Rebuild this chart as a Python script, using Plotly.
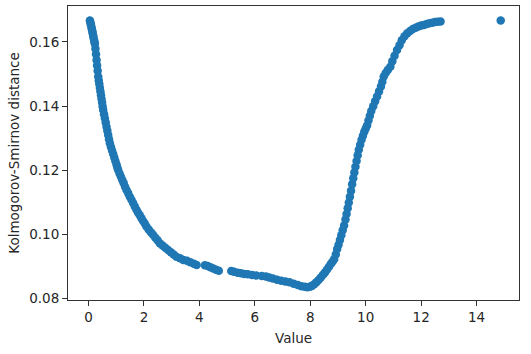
import plotly.graph_objects as go

value = [0.05, 0.06, 0.08, 0.09, 0.11, 0.12, 0.14, 0.15, 0.17, 0.18, 0.20, 0.22, 0.23,
         0.25, 0.27, 0.29, 0.31, 0.33, 0.35, 0.37, 0.39, 0.41, 0.43, 0.45, 0.47, 0.49,
         0.51, 0.53, 0.56, 0.59, 0.62, 0.65, 0.68, 0.71, 0.74, 0.77, 0.81, 0.85, 0.89,
         0.93, 0.97, 1.01, 1.04, 1.07, 1.12, 1.17, 1.22, 1.27, 1.32, 1.37, 1.43, 1.49,
         1.55, 1.61, 1.67, 1.73, 1.79, 1.85, 1.91, 1.97, 2.03, 2.09, 2.17, 2.25, 2.33,
         2.41, 2.49, 2.57, 2.67, 2.77, 2.87, 2.97, 3.07, 3.17, 3.30, 3.42, 3.55, 3.67,
         3.80, 3.90, 4.20, 4.30, 4.40, 4.50, 4.60, 4.70, 5.15, 5.25, 5.38, 5.50, 5.62,
         5.75, 5.90, 6.05, 6.25, 6.40, 6.52, 6.65, 6.80, 6.95, 7.10, 7.25, 7.40, 7.55,
         7.68, 7.80, 7.90, 7.98, 8.06, 8.14, 8.22, 8.30, 8.38, 8.46, 8.53, 8.60, 8.67,
         8.74, 8.80, 8.86, 8.92, 8.97, 9.02, 9.07, 9.12, 9.17, 9.22, 9.27, 9.31, 9.35,
         9.39, 9.43, 9.47, 9.51, 9.55, 9.59, 9.63, 9.67, 9.71, 9.75, 9.80, 9.85, 9.90,
         9.95, 10.00, 10.05, 10.10, 10.15, 10.20, 10.27, 10.34, 10.41, 10.48, 10.55,
         10.60, 10.65, 10.72, 10.80, 10.89, 10.96, 11.04, 11.13, 11.22, 11.30, 11.40,
         11.50, 11.60, 11.70, 11.80, 11.90, 12.00, 12.10, 12.20, 12.30, 12.40, 12.50,
         12.60, 12.70, 14.87]

ks_distance = [0.1667, 0.1663, 0.1657, 0.1652, 0.1645, 0.1640, 0.1633, 0.1627, 0.1619,
               0.1614, 0.1606, 0.1599, 0.1594, 0.1579, 0.1562, 0.1544, 0.1527, 0.1510,
               0.1492, 0.1480, 0.1469, 0.1457, 0.1446, 0.1434, 0.1422, 0.1411, 0.1399,
               0.1388, 0.1375, 0.1362, 0.1349, 0.1336, 0.1323, 0.1310, 0.1297, 0.1284,
               0.1273, 0.1262, 0.1251, 0.1240, 0.1229, 0.1218, 0.1209, 0.1201, 0.1190,
               0.1180, 0.1170, 0.1160, 0.1149, 0.1139, 0.1129, 0.1118, 0.1108, 0.1098,
               0.1087, 0.1077, 0.1068, 0.1060, 0.1051, 0.1042, 0.1034, 0.1025, 0.1016,
               0.1007, 0.0999, 0.0990, 0.0982, 0.0973, 0.0966, 0.0959, 0.0952, 0.0945,
               0.0938, 0.0931, 0.0926, 0.0921, 0.0918, 0.0914, 0.0909, 0.0905, 0.0904,
               0.0902, 0.0898, 0.0894, 0.0890, 0.0887, 0.0886, 0.0884, 0.0881, 0.0879,
               0.0877, 0.0876, 0.0874, 0.0872, 0.0871, 0.0869, 0.0866, 0.0863, 0.0859,
               0.0856, 0.0854, 0.0851, 0.0847, 0.0843, 0.0839, 0.0837, 0.0836, 0.0837,
               0.0840, 0.0845, 0.0851, 0.0858, 0.0866, 0.0875, 0.0882, 0.0890, 0.0899,
               0.0908, 0.0915, 0.0923, 0.0938, 0.0955, 0.0968, 0.0983, 0.0998, 0.1013,
               0.1028, 0.1047, 0.1064, 0.1082, 0.1100, 0.1118, 0.1136, 0.1157, 0.1175,
               0.1193, 0.1211, 0.1229, 0.1247, 0.1264, 0.1280, 0.1295, 0.1308, 0.1320,
               0.1330, 0.1340, 0.1355, 0.1370, 0.1385, 0.1400, 0.1415, 0.1430, 0.1446,
               0.1461, 0.1476, 0.1492, 0.1503, 0.1513, 0.1523, 0.1540, 0.1557, 0.1575,
               0.1590, 0.1605, 0.1618, 0.1627, 0.1634, 0.1640, 0.1644, 0.1648, 0.1651,
               0.1653, 0.1656, 0.1658, 0.1660, 0.1662, 0.1663, 0.1664, 0.1667]

x_ticks = [0, 2, 4, 6, 8, 10, 12, 14]
y_ticks = [0.08, 0.10, 0.12, 0.14, 0.16]
x_tick_labels = ["0", "2", "4", "6", "8", "10", "12", "14"]
y_tick_labels = ["0.08", "0.10", "0.12", "0.14", "0.16"]

fig = go.Figure()
fig.add_trace(go.Scatter(
    x=value, y=ks_distance, mode="markers",
    marker=dict(color="#1f77b4", size=8.5, line=dict(width=0)),
    showlegend=False, hoverinfo="skip",
))

axis_common = dict(
    showgrid=False, zeroline=False, showline=True, mirror=True,
    linecolor="#333333", linewidth=1, ticks="outside", ticklen=5,
    tickwidth=1, tickcolor="#333333",
    tickfont=dict(family="DejaVu Sans", size=13.5, color="#262626"),
)

fig.update_layout(
    width=531, height=354,
    margin=dict(l=68, r=12, t=6, b=54),
    paper_bgcolor="white", plot_bgcolor="white",
    font=dict(family="DejaVu Sans", size=13.5, color="#262626"),
    xaxis=dict(range=[-0.74, 15.53], tickvals=x_ticks, ticktext=x_tick_labels,
               title=dict(text="Value", standoff=9,
                          font=dict(family="DejaVu Sans", size=13.5)),
               **axis_common),
    yaxis=dict(range=[0.0796, 0.1712], tickvals=y_ticks, ticktext=y_tick_labels,
               title=dict(text="Kolmogorov-Smirnov distance", standoff=6,
                          font=dict(family="DejaVu Sans", size=13.5)),
               **axis_common),
)

fig.write_html("out.html")
